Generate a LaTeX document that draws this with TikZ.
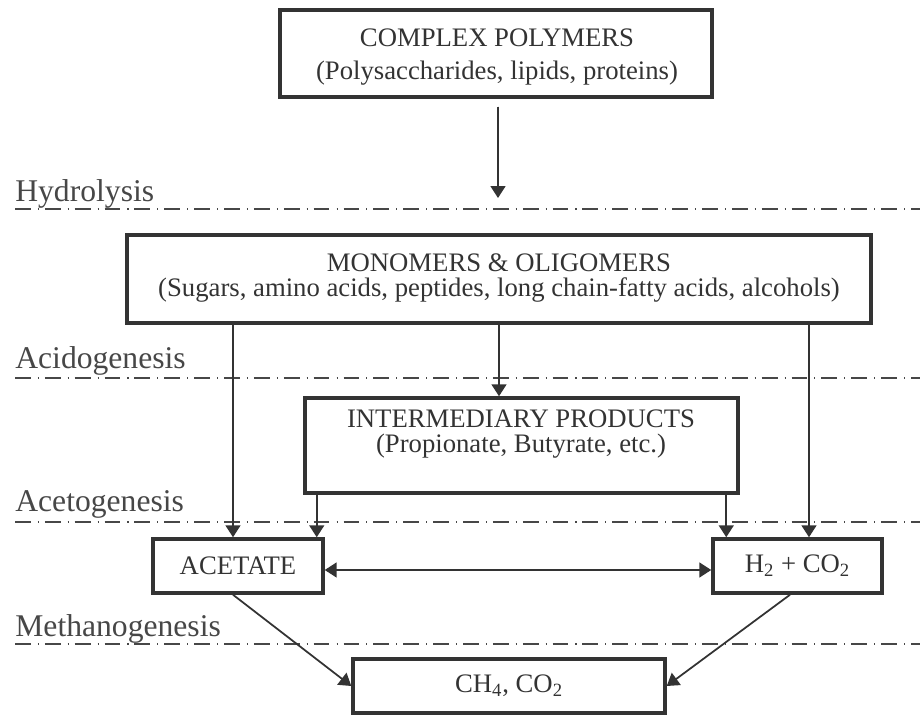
\documentclass[tikz,border=0pt]{standalone}
\usepackage{fontspec}
\setmainfont{Liberation Serif}
\usepackage{xcolor}
\colorlet{colLine}{black!80}
\colorlet{colPhase}{black!72}
\usepackage{tikz}
\usetikzlibrary{arrows.meta, positioning, calc}
\tikzset{
	stagebox/.style={draw=colLine, line width=2pt, inner sep=0pt, font=\fontsize{15.2}{18}\selectfont, text=colLine},
	stagetext/.style={anchor=base, inner sep=0pt, font=\fontsize{15.2}{18}\selectfont, text=colLine},
	phaselabel/.style={anchor=base west, inner sep=0pt, font=\fontsize{18}{21}\selectfont, text=colPhase},
	phaseline/.style={draw=colPhase, line width=0.7pt, dash pattern=on 9pt off 4pt on 0.6pt off 3.4pt},
	flowarr/.style={->, >={Triangle[length=6.8pt, width=8.5pt]}, line width=1pt, draw=colLine, fill=colLine},
}

\begin{document}
\begin{tikzpicture}[x=0.02cm, y=-0.02cm]
	\useasboundingbox (0,0) rectangle (920,715);

	% Phase separators
	\node[phaselabel] (hydro) at (15,202) {Hydrolysis};
	\draw[phaseline] (15,209) -- (920,209);
	\node[phaselabel] (acido) at (15,369) {Acidogenesis};
	\draw[phaseline] (15,378) -- (920,378);
	\node[phaselabel] (aceto) at (15,512) {Acetogenesis};
	\draw[phaseline] (15,522) -- (920,522);
	\node[phaselabel] (methano) at (15,637) {Methanogenesis};
	\draw[phaseline] (15,644) -- (920,644);

	% Complex polymers
	\node[stagebox, minimum width=8.64cm, minimum height=1.74cm] (poly) at (496,53.5) {};
	\node[stagetext] (polyA) at (497,47) {COMPLEX POLYMERS};
	\node[stagetext] (polyB) at (497,80) {(Polysaccharides, lipids, proteins)};

	% Monomers
	\node[stagebox, minimum width=14.88cm, minimum height=1.76cm] (mono) at (499,279) {};
	\node[stagetext] (monoA) at (499,272) {MONOMERS \& OLIGOMERS};
	\node[stagetext] (monoB) at (499,297) {(Sugars, amino acids, peptides, long chain-fatty acids, alcohols)};

	% Intermediary products
	\node[stagebox, minimum width=8.66cm, minimum height=1.9cm] (inter) at (521.5,445.5) {};
	\node[stagetext] (interA) at (521,428) {INTERMEDIARY PRODUCTS};
	\node[stagetext] (interB) at (521,453) {(Propionate, Butyrate, etc.)};

	% Acetate, hydrogen, methane
	\node[stagebox, minimum width=3.4cm, minimum height=1.08cm] (acetate) at (238,566) {ACETATE};
	\node[stagebox, minimum width=3.38cm, minimum height=1.08cm] (htwo) at (797.5,566) {H\textsubscript{2} + CO\textsubscript{2}};
	\node[stagebox, minimum width=6.24cm, minimum height=1.08cm] (methane) at (509,686) {CH\textsubscript{4}, CO\textsubscript{2}};

	% Arrows
	\coordinate (hydIn) at (498,198);
	\draw[flowarr, shorten <=0.16cm] (hydIn |- poly.south) -- (hydIn);
	\draw[flowarr] (mono.south) -- (mono.south |- inter.north);
	\draw[flowarr] ([xshift=-0.1cm]acetate.north |- mono.south) -- ([xshift=-0.1cm]acetate.north);
	\draw[flowarr] ([xshift=-0.16cm]acetate.north east |- inter.south) -- ([xshift=-0.16cm]acetate.north east);
	\draw[flowarr] ([xshift=0.3cm]htwo.north west |- inter.south) -- ([xshift=0.3cm]htwo.north west);
	\draw[flowarr] ([xshift=0.23cm]htwo.north |- mono.south) -- ([xshift=0.23cm]htwo.north);
	\draw[flowarr, <->] ([yshift=-0.08cm]acetate.east) -- ([yshift=-0.08cm]htwo.west);
	\draw[flowarr] ([xshift=-0.1cm]acetate.south) -- (methane.west);
	\draw[flowarr] ([xshift=-0.15cm]htwo.south) -- (methane.east);
\end{tikzpicture}
\end{document}
